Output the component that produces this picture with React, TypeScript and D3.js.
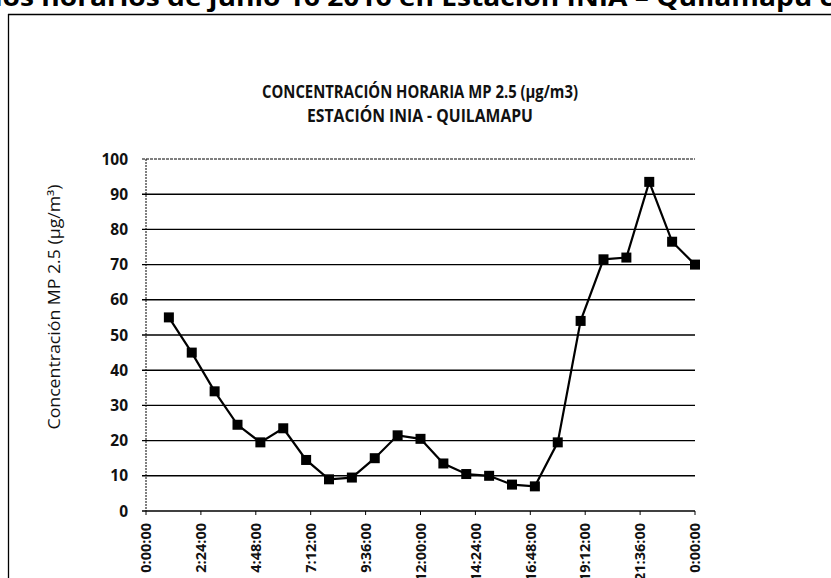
import * as d3 from "d3";

const hours = [1, 2, 3, 4, 5, 6, 7, 8, 9, 10, 11, 12, 13, 14, 15, 16, 17, 18, 19, 20, 21, 22, 23, 24];
const concentration = [55, 45, 34, 24.5, 19.5, 23.5, 14.5, 9, 9.5, 15, 21.5, 20.5, 13.5, 10.5, 10, 7.5, 7, 19.5, 54, 71.5, 72, 93.5, 76.5, 70];
const xTickHours = [0, 2.4, 4.8, 7.2, 9.6, 12, 14.4, 16.8, 19.2, 21.6, 24];
const xTickLabels = ["0:00:00", "2:24:00", "4:48:00", "7:12:00", "9:36:00", "12:00:00", "14:24:00", "16:48:00", "19:12:00", "21:36:00", "0:00:00"];
const yTicks = [0, 10, 20, 30, 40, 50, 60, 70, 80, 90, 100];

const pageHeading = "ios horarios de junio 16 2016 en Estación INIA – Quilamapu c";
const titleLines = ["CONCENTRACIÓN HORARIA MP 2.5 (µg/m3)", "ESTACIÓN INIA - QUILAMAPU"];
const titleWidths = [316, 226];
const yTitle = "Concentración MP 2.5 (µg/m³)";

const W = 831;
const H = 578;
const plot = { left: 146, right: 695, top: 159, bottom: 511 };
const font = "'Open Sans', 'Noto Sans', sans-serif";

export default function App() {
  const x = d3.scaleLinear().domain([0, 24]).range([plot.left, plot.right]);
  const y = d3.scaleLinear().domain([0, 100]).range([plot.bottom, plot.top]);
  const line = d3
    .line<number>()
    .x((_, i) => x(hours[i]))
    .y((d) => y(d));
  const mk = 10;

  return (
    <svg
      width={W}
      height={H}
      viewBox={`0 0 ${W} ${H}`}
      style={{ position: "absolute", left: 0, top: 0, background: "#fff" }}
    >
      <rect width={W} height={H} fill="#fff" />
      {/* heading of the surrounding document, cut by the crop */}
      <text x={-6} y={6} fontFamily={font} fontWeight={700} fontSize={25} fill="#000" textLength={840} lengthAdjust="spacingAndGlyphs">
        {pageHeading}
      </text>
      {/* chart frame */}
      <line x1={8} x2={W} y1={14.5} y2={14.5} stroke="#000" strokeWidth={1.5} />
      <line x1={8.5} x2={8.5} y1={14} y2={H} stroke="#000" strokeWidth={1.3} />

      {titleLines.map((t, i) => (
        <text
          key={t}
          x={420}
          y={98 + i * 24}
          textAnchor="middle"
          fontFamily={font}
          fontWeight={700}
          fontSize={18}
          fill="#111"
          textLength={titleWidths[i]}
          lengthAdjust="spacingAndGlyphs"
        >
          {t}
        </text>
      ))}

      <text
        transform="translate(60,307) rotate(-90)"
        textAnchor="middle"
        fontFamily={font}
        fontSize={16}
        fill="#111"
        textLength={245}
        lengthAdjust="spacingAndGlyphs"
      >
        {yTitle}
      </text>

      {/* gridlines */}
      {yTicks.map((t) => (
        <g key={t}>
          <line
            x1={plot.left - 4}
            x2={plot.right}
            y1={y(t)}
            y2={y(t)}
            stroke="#000"
            strokeWidth={t === 100 ? 1 : 1.4}
            strokeDasharray={t === 100 ? "3 1" : undefined}
          />
          <text x={128} y={y(t)} dy="0.36em" textAnchor="end" fontFamily={font} fontWeight={700} fontSize={15.5} fill="#111">
            {t}
          </text>
        </g>
      ))}
      <line x1={plot.left} x2={plot.left} y1={plot.top} y2={plot.bottom} stroke="#000" strokeWidth={1} strokeDasharray="2 1" />

      {/* x ticks and labels */}
      {xTickHours.map((h, i) => (
        <g key={i} transform={`translate(${x(h)},${plot.bottom})`}>
          <line y1={0} y2={4} stroke="#000" strokeWidth={1} />
          <text
            transform="translate(0,12) rotate(-90)"
            dy="0.36em"
            textAnchor="end"
            fontFamily={font}
            fontWeight={700}
            fontSize={14.5}
            fill="#111"
          >
            {xTickLabels[i]}
          </text>
        </g>
      ))}

      <path d={line(concentration) ?? ""} fill="none" stroke="#000" strokeWidth={2.2} />
      {concentration.map((v, i) => (
        <rect key={i} x={x(hours[i]) - mk / 2} y={y(v) - mk / 2} width={mk} height={mk} fill="#000" />
      ))}
    </svg>
  );
}
